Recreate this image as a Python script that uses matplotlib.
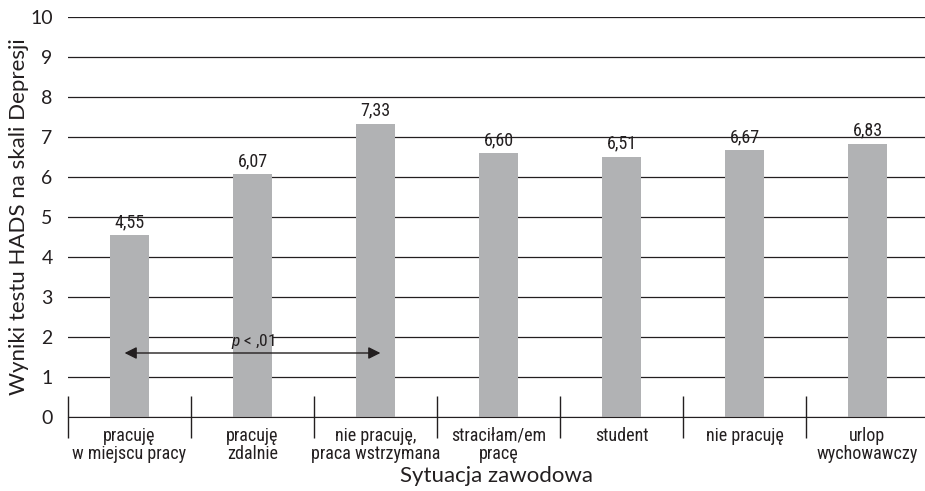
import matplotlib.pyplot as plt
from matplotlib import font_manager

# Mean HADS depression scores by employment situation
categories = ["pracuję\nw miejscu pracy", "pracuję\nzdalnie",
              "nie pracuję,\npraca wstrzymana", "straciłam/em\npracę",
              "student", "nie pracuję", "urlop\nwychowawczy"]
scores = [4.55, 6.07, 7.33, 6.60, 6.51, 6.67, 6.83]

names = {f.name for f in font_manager.fontManager.ttflist}


def pick(cands):
    for c in cands:
        if c in names:
            return [c, "DejaVu Sans"]
    return ["DejaVu Sans"]


narrow = pick(["Roboto Condensed", "Liberation Sans Narrow", "Liberation Sans"])
regular = pick(["Lato", "Open Sans", "Liberation Sans"])
plt.rcParams["font.family"] = regular
plt.rcParams["mathtext.fontset"] = "custom"
plt.rcParams["mathtext.it"] = narrow[0] + ":italic"
plt.rcParams["mathtext.rm"] = narrow[0]
ink = "#231f20"

fig = plt.figure(figsize=(9.25, 4.91), dpi=100)
ax = fig.add_axes([68 / 925, 74 / 491, 861 / 925, 400 / 491])

x = range(len(categories))
ax.bar(x, scores, width=0.32, color="#b1b2b4", zorder=2)

for i, v in enumerate(scores):
    ax.text(i, v + 0.1, f"{v:.2f}".replace(".", ","), ha="center", va="bottom",
            fontsize=13, color=ink, family=narrow)

ax.set_xlim(-0.5, len(categories) - 0.5)
ax.set_ylim(0, 10)
ax.set_yticks(range(0, 11))
ax.yaxis.grid(True, color=ink, linewidth=0.9, zorder=1)
ax.tick_params(axis="y", length=0, labelsize=14, pad=11, colors=ink)

ax.set_xticks(list(x))
ax.set_xticklabels(categories, fontsize=13, color=ink, linespacing=1.0, family=narrow)
ax.tick_params(axis="x", which="major", length=0, pad=7)
ax.set_xticks([i - 0.5 for i in range(len(categories) + 1)], minor=True)
ax.tick_params(axis="x", which="minor", direction="inout", length=30, width=1, color=ink)

for side in ["top", "right", "left"]:
    ax.spines[side].set_visible(False)
ax.spines["bottom"].set_color(ink)
ax.spines["bottom"].set_zorder(3)

fig.text(19 / 925, 1 - 217 / 491, "Wyniki testu HADS na skali Depresji", rotation=90,
         ha="center", va="center", fontsize=16, color=ink)
fig.text(497 / 925, 1 - 476 / 491, "Sytuacja zawodowa", ha="center", va="center",
         fontsize=16, color=ink)

# significance bracket between first and third group
ax.annotate("", xy=(-0.04, 1.6), xytext=(2.04, 1.6),
            arrowprops=dict(arrowstyle="<|-|>", color=ink, lw=1,
                            mutation_scale=18, shrinkA=0, shrinkB=0), zorder=4)
ax.text(1.0, 1.64, r"$\it{p}$ < ,01", ha="center", va="bottom", fontsize=12.5,
        color=ink, family=narrow)

fig.savefig("out.png", dpi=100)
